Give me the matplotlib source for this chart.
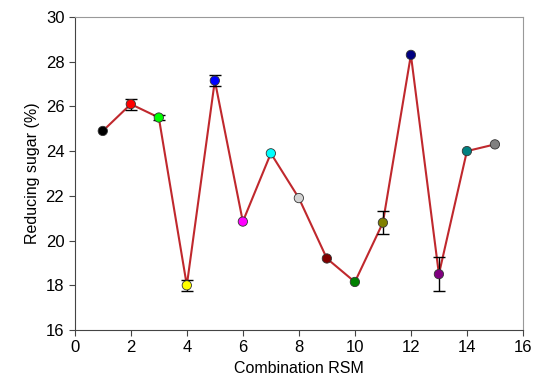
import matplotlib
matplotlib.use("Agg")
import matplotlib.pyplot as plt

plt.rcParams["font.family"] = ["Liberation Sans", "DejaVu Sans"]

# data
combo = [1, 2, 3, 4, 5, 6, 7, 8, 9, 10, 11, 12, 13, 14, 15]
sugar = [24.9, 26.1, 25.5, 18.0, 27.15, 20.85, 23.9, 21.9, 19.2, 18.15, 20.8, 28.3, 18.5, 24.0, 24.3]
err = [0.0, 0.25, 0.1, 0.25, 0.25, 0.0, 0.0, 0.0, 0.0, 0.0, 0.5, 0.0, 0.75, 0.0, 0.0]
colors = ["black", "red", "lime", "yellow", "blue", "magenta", "cyan", "lightgray",
          "maroon", "green", "olive", "navy", "purple", "teal", "gray"]

fig = plt.figure(figsize=(5.38, 3.92), dpi=100)
ax = fig.add_axes([0.139, 0.158, 0.833, 0.799])

ax.plot(combo, sugar, color="#C0282D", linewidth=1.5, zorder=2)
# only points that have a visible error bar
ex = [c for c, e in zip(combo, err) if e > 0]
ey = [s for s, e in zip(sugar, err) if e > 0]
ee = [e for e in err if e > 0]
ax.errorbar(ex, ey, yerr=ee, fmt="none", ecolor="black", elinewidth=1,
            capsize=4, capthick=1, zorder=3)
ax.scatter(combo, sugar, c=colors, s=45, edgecolors="#333333", linewidths=0.6, zorder=4)

ax.set_xlim(0, 16)
ax.set_ylim(16, 30)
ax.set_xticks(range(0, 17, 2))
ax.set_yticks(range(16, 31, 2))
ax.tick_params(labelsize=12, direction="out", length=4, color="#444444")
ax.set_xlabel("Combination RSM", fontsize=11.5)
ax.set_ylabel("Reducing sugar (%)", fontsize=11.5)
for s in ["left", "bottom"]:
    ax.spines[s].set_color("#444444")
for s in ["top", "right"]:
    ax.spines[s].set_color("#999999")

fig.savefig("out.png", dpi=100)
